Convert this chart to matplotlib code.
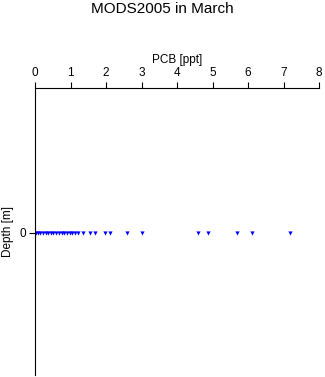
import matplotlib
matplotlib.use("Agg")
import matplotlib.pyplot as plt

pcb = [0.02, 0.08, 0.15, 0.22, 0.3, 0.38, 0.45, 0.52, 0.6, 0.68, 0.75, 0.82, 0.9,
       0.98, 1.05, 1.12, 1.2, 1.35,
       1.55, 1.7, 1.97, 2.1, 2.58, 3.0, 4.6, 4.88, 5.68, 6.1, 7.18]
depth = [0] * len(pcb)
xticks = [0, 1, 2, 3, 4, 5, 6, 7, 8]

plt.rcParams['font.family'] = ['Liberation Sans', 'DejaVu Sans']
fig = plt.figure(figsize=(3.25, 3.77), dpi=100)
ax = fig.add_axes([35/325, 2/377, 284/325, 287/377])
ax.scatter(pcb, depth, s=9, marker='v', color='#0000ff', linewidths=0)
ax.set_xlim(0, 8)
ax.set_ylim(0.98, -1.0)
ax.xaxis.tick_top()
ax.xaxis.set_label_position('top')
ax.set_xticks(xticks)
ax.set_yticks([0])
ax.tick_params(labelsize=8.5, length=4, width=0.8, direction='out', pad=2.5)
ax.set_xlabel('PCB [ppt]', fontsize=8.5, labelpad=3)
ax.set_ylabel('Depth [m]', fontsize=8.5, labelpad=4)
ax.spines['right'].set_visible(False)
ax.spines['bottom'].set_visible(False)
fig.text(0.5, 1 - 9/377, 'MODS2005 in March', ha='center', va='center', fontsize=11)
fig.savefig('out.png', dpi=100)
